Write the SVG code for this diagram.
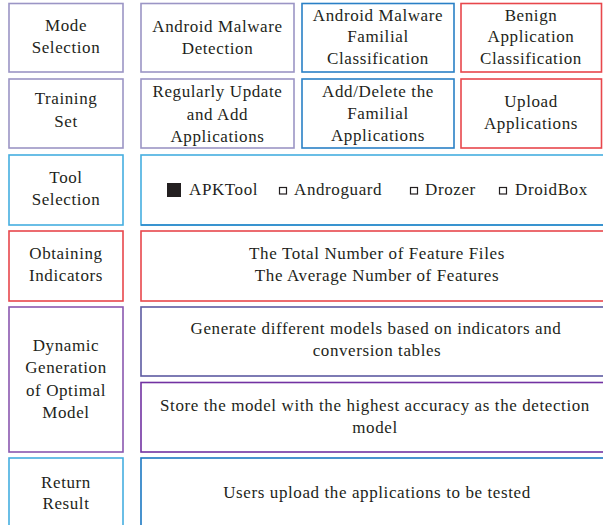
<svg xmlns="http://www.w3.org/2000/svg" width="603" height="525" viewBox="0 0 603 525">
  <style>
    rect { fill: #ffffff; stroke-width: 1.6; }
    text { font-family: "Liberation Serif", "DejaVu Serif", serif; font-size: 17px; letter-spacing: 0.6px; fill: #231f20; text-anchor: middle; }
    .l { text-anchor: start; }
    .lav { stroke: #9b95c5; }
    .blu { stroke: #2a80c6; }
    .red { stroke: #e8474c; }
    .sky { stroke: #45aee0; }
    .pur { stroke: #8a58b0; }
    .ind { stroke: #5d5aa2; }
    .vio { stroke: #7232a2; }
    .dbl { stroke: #1c78c2; }
    .chk { fill: #ffffff; stroke: #231f20; stroke-width: 1.2; }
    .sel { fill: #231f20; stroke: none; }
  </style>
  <rect x="0" y="0" width="603" height="525" style="stroke:none"/>

  <!-- Row 1: mode selection -->
  <g id="mode-selection">
    <rect class="lav" x="9" y="3.5" width="114" height="68.5"/>
    <text x="66" y="31">Mode</text>
    <text x="66" y="53">Selection</text>
  </g>
  <g id="mode-malware-detection">
    <rect class="lav" x="141" y="3.5" width="153" height="68.5"/>
    <text x="217.5" y="32">Android Malware</text>
    <text x="217.5" y="54">Detection</text>
  </g>
  <g id="mode-familial-classification">
    <rect class="blu" x="302" y="3.5" width="152" height="68.5"/>
    <text x="378" y="21">Android Malware</text>
    <text x="378" y="42">Familial</text>
    <text x="378" y="63.5">Classification</text>
  </g>
  <g id="mode-benign-classification">
    <rect class="red" x="461" y="3.5" width="140.5" height="68.5"/>
    <text x="531" y="21">Benign</text>
    <text x="531" y="42">Application</text>
    <text x="531" y="63.5">Classification</text>
  </g>

  <!-- Row 2: training set -->
  <g id="training-set">
    <rect class="lav" x="9" y="79" width="114" height="69"/>
    <text x="66" y="104">Training</text>
    <text x="66" y="127">Set</text>
  </g>
  <g id="training-update">
    <rect class="lav" x="141" y="79" width="153" height="69"/>
    <text x="217.5" y="97">Regularly Update</text>
    <text x="217.5" y="119.5">and Add</text>
    <text x="217.5" y="142">Applications</text>
  </g>
  <g id="training-familial">
    <rect class="blu" x="302" y="79" width="152" height="69"/>
    <text x="378" y="97">Add/Delete the</text>
    <text x="378" y="119">Familial</text>
    <text x="378" y="141">Applications</text>
  </g>
  <g id="training-upload">
    <rect class="red" x="461" y="79" width="140.5" height="69"/>
    <text x="531" y="107">Upload</text>
    <text x="531" y="129">Applications</text>
  </g>

  <!-- Row 3: tool selection -->
  <g id="tool-selection">
    <rect class="sky" x="9" y="155" width="114" height="70"/>
    <text x="66" y="183">Tool</text>
    <text x="66" y="205">Selection</text>
  </g>
  <g id="tool-options">
    <rect class="sky" x="141" y="155" width="470" height="70"/>
    <line x1="141" y1="225" x2="603" y2="225" stroke="#2a86c8" stroke-width="1.6"/>
    <rect class="sel" x="167" y="183" width="14" height="14"/>
    <text class="l" x="189" y="195">APKTool</text>
    <rect class="chk" x="279.5" y="187.5" width="7" height="6.5"/>
    <text class="l" x="294" y="195">Androguard</text>
    <rect class="chk" x="410.5" y="187.5" width="7" height="6.5"/>
    <text class="l" x="425" y="195">Drozer</text>
    <rect class="chk" x="499.5" y="187.5" width="7" height="6.5"/>
    <text class="l" x="515" y="195">DroidBox</text>
  </g>

  <!-- Row 4: indicators -->
  <g id="obtaining-indicators">
    <rect class="red" x="9" y="231" width="114" height="70"/>
    <text x="66" y="259">Obtaining</text>
    <text x="66" y="281">Indicators</text>
  </g>
  <g id="indicator-values">
    <rect class="red" x="141" y="231" width="470" height="70"/>
    <text x="377" y="259">The Total Number of Feature Files</text>
    <text x="377" y="281">The Average Number of Features</text>
  </g>

  <!-- Row 5: model generation -->
  <g id="dynamic-generation">
    <rect class="pur" x="9" y="307" width="114" height="145"/>
    <text x="66" y="351">Dynamic</text>
    <text x="66" y="373">Generation</text>
    <text x="66" y="395.5">of Optimal</text>
    <text x="66" y="417.5">Model</text>
  </g>
  <g id="generate-models">
    <rect class="ind" x="141" y="307" width="470" height="69"/>
    <text x="376" y="334">Generate different models based on indicators and</text>
    <text x="377" y="356">conversion tables</text>
  </g>
  <g id="store-model">
    <rect class="vio" x="141" y="382.5" width="470" height="69.5"/>
    <text x="375" y="411">Store the model with the highest accuracy as the detection</text>
    <text x="375" y="433">model</text>
  </g>

  <!-- Row 6: result -->
  <g id="return-result">
    <rect class="sky" x="9" y="458" width="114" height="80"/>
    <text x="66" y="487.5">Return</text>
    <text x="66" y="509">Result</text>
  </g>
  <g id="upload-test">
    <rect class="dbl" x="141" y="458" width="470" height="80"/>
    <text x="377" y="498">Users upload the applications to be tested</text>
  </g>

  <g id="connectors"/>
</svg>
